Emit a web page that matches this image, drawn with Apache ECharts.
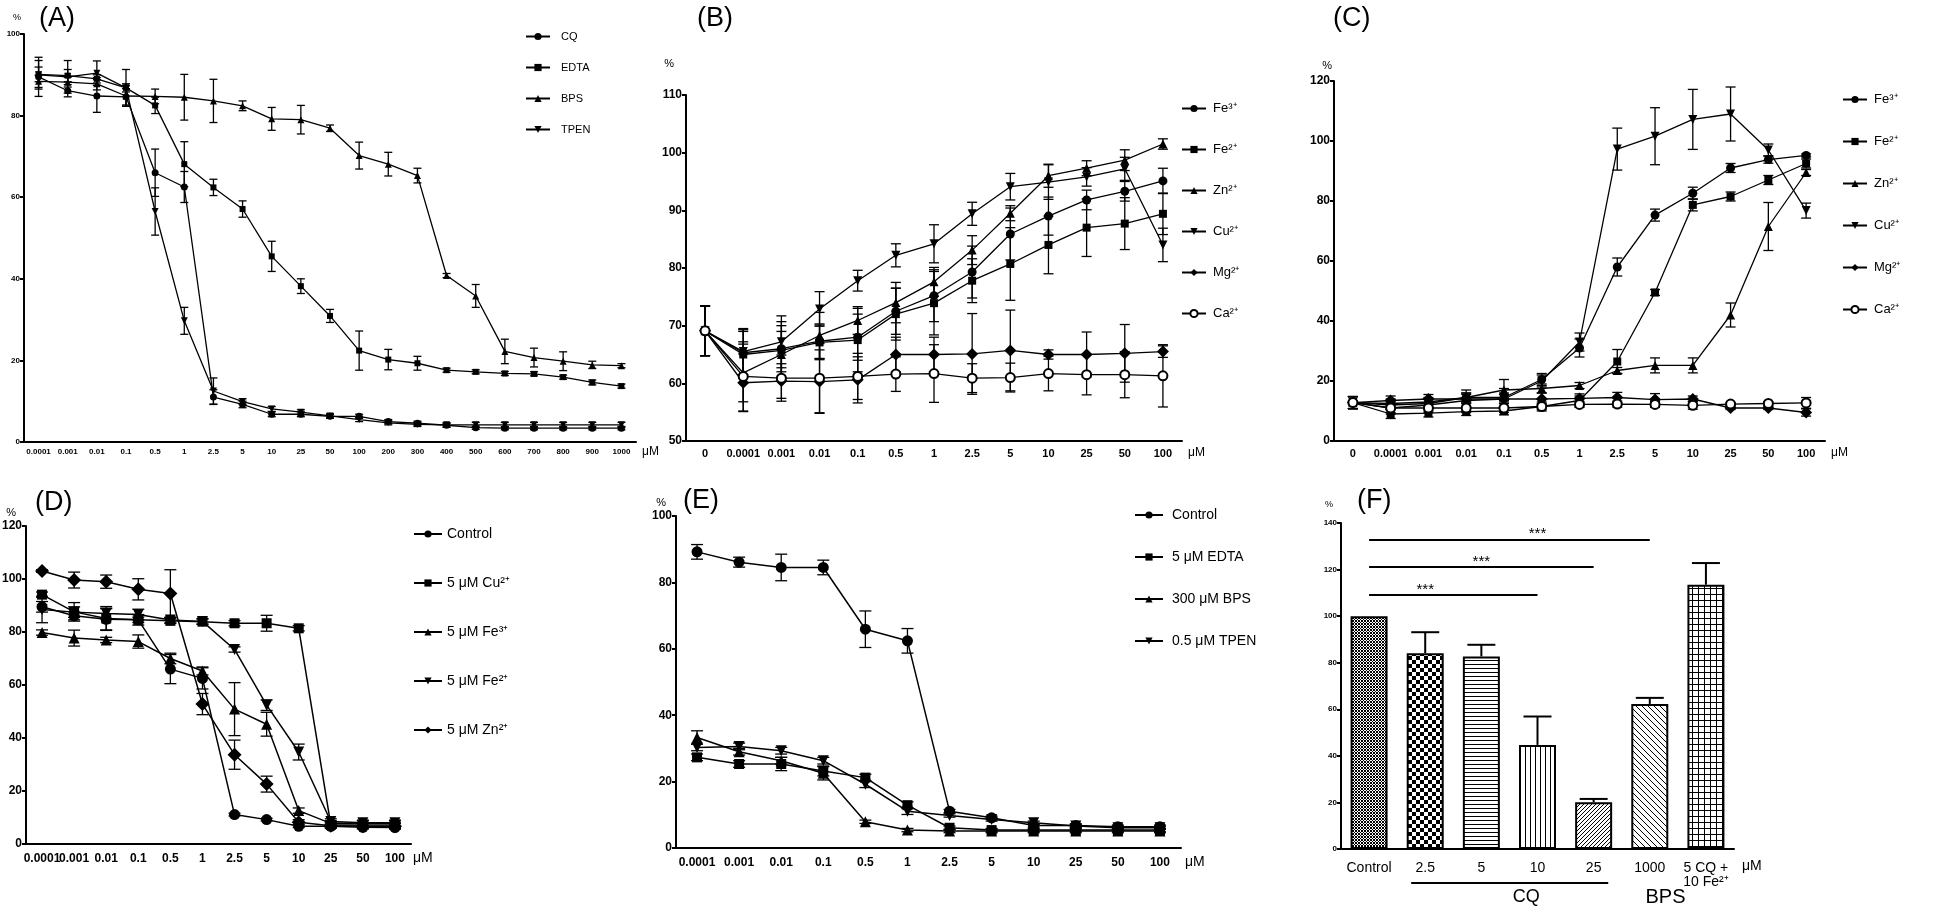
<!DOCTYPE html>
<html><head><meta charset="utf-8">
<script src="https://cdn.jsdelivr.net/npm/echarts@6/dist/echarts.min.js"></script>
<style>html,body{margin:0;padding:0;background:#fff}#c{width:1946px;height:909px}</style>
</head><body><div id="c"></div><script>
// ---------- DATA ----------
const catA = ['0.0001','0.001','0.01','0.1','0.5','1','2.5','5','10','25','50','100','200','300','400','500','600','700','800','900','1000'];
const A_CQ      = [89.5,86.1,84.8,84.6,66.0,62.5,11.0,9.2,6.8,6.8,6.3,6.3,5.0,4.6,4.1,3.5,3.4,3.4,3.4,3.4,3.4];
const A_CQ_err  = [4.8,1.5,4,2,5.8,3.8,1.8,0.8,0.6,0.6,0.5,0.5,0.5,0.5,0.5,0.4,0.4,0.4,0.4,0.4,0.4];
const A_EDTA    = [90.1,89.8,89.0,86.8,82.5,68.1,62.4,57.1,45.5,38.2,30.9,22.4,20.2,19.3,17.6,17.2,16.8,16.7,15.9,14.6,13.7];
const A_EDTA_err= [1.8,1.5,1,1,2,5.5,2,2,3.7,1.8,1.6,4.8,2.5,1.7,0.5,0.5,0.5,0.5,0.5,0.6,0.5];
const A_BPS     = [88.4,88.2,87.8,84.8,84.7,84.5,83.6,82.4,79.2,79.0,76.9,70.2,68.1,65.3,40.8,35.8,22.2,20.7,19.8,18.9,18.7];
const A_BPS_err = [1.5,1.2,1.5,2.5,1.8,5.6,5.3,1.2,2.8,3.5,0.8,3.3,2.9,1.8,0.5,2.8,3,2.3,2.3,0.9,0.5];
const A_TPEN    = [90.0,89.5,90.4,86.8,56.5,29.7,12.5,9.9,8.1,7.3,6.4,5.5,4.7,4.3,4.2,4.2,4.2,4.2,4.2,4.2,4.2];
const A_TPEN_err= [3.5,4,3,4.5,5.8,3.3,3.2,0.7,0.6,0.6,0.5,0.5,0.5,0.5,0.5,0.6,0.6,0.6,0.6,0.6,0.6];
const A_names = ['CQ','EDTA','BPS','TPEN'];

const catBC = ['0','0.0001','0.001','0.01','0.1','0.5','1','2.5','5','10','25','50','100'];
const ionNames = ['Fe³⁺','Fe²⁺','Zn²⁺','Cu²⁺','Mg²⁺','Ca²⁺'];
const B_Fe3 = [69.1,65.3,66.0,67.3,68.0,72.5,75.2,79.3,85.9,89.0,91.8,93.3,95.1];
const B_Fe3_err = [4.3,4,4,3,4,4,4.5,4.5,4.5,3.3,1.7,1.7,2.2];
const B_Fe2 = [69.1,65.0,65.7,67.1,67.5,72.0,73.9,77.8,80.7,84.0,87.0,87.7,89.4];
const B_Fe2_err = [4.3,4,5,3,5.5,4.5,5.5,3.8,6.3,5,5,4.5,3.6];
const B_Zn = [69.1,61.8,65.0,68.3,70.9,74.0,77.6,83.1,89.5,96.0,97.3,98.7,101.5];
const B_Zn_err = [4.3,5,4,4,2.4,3.5,2.5,2.5,1.3,2,1.3,1.8,0.9];
const B_Cu = [69.1,65.5,67.2,72.9,77.8,82.2,84.2,89.4,94.1,94.9,95.8,97.2,84.0];
const B_Cu_err = [4.3,4,4.5,3,1.8,2,3.3,2,2.3,3,1.6,2,2.9];
const B_Mg = [69.1,60.1,60.4,60.3,60.6,65.0,65.0,65.1,65.7,65.0,65.0,65.2,65.5];
const B_Mg_err = [4.3,5,3,5.5,4,3,3,7,7,0.8,3.9,5,1];
const B_Ca = [69.1,61.2,60.9,60.9,61.2,61.6,61.7,60.9,61.0,61.7,61.5,61.5,61.3];
const B_Ca_err = [4.3,6,4,6,4,3,5,2.5,2.5,3,3.5,4,5.4];

const C_Fe3 = [12.8,12.0,12.5,14.5,14.5,20.5,31.0,58.0,75.3,82.6,91.0,93.8,95.2];
const C_Fe3_err = [2,1.5,1.5,1.5,1.5,2,3,3,2,2,1.5,1.2,0.5];
const C_Fe2 = [12.8,9.0,9.3,9.8,10.0,11.5,13.5,26.5,49.5,78.7,81.5,87.0,92.5];
const C_Fe2_err = [2,1.5,1.3,1.3,1.3,1,1.5,4,1,2,1.5,1.5,1.5];
const C_Zn = [12.8,12.5,13.0,14.5,17.0,17.5,18.5,23.5,25.2,25.2,42.0,71.5,89.5];
const C_Zn_err = [2,1.5,1.5,1.5,3.5,1.5,1,1,2.5,2.5,4,8,1];
const C_Cu = [12.8,11.0,12.0,13.5,14.0,20.0,33.0,97.3,101.6,107.2,109.0,97.0,76.8];
const C_Cu_err = [2,2,2,3.5,3.5,2,3,7,9.5,10,9,2,2.5];
const C_Mg = [12.8,13.5,14.0,14.0,14.0,14.0,14.2,14.5,13.8,14.0,11.0,11.0,9.5];
const C_Mg_err = [2,1.5,1.5,1.5,1.5,2,1.5,1.7,2,1,0.5,0.5,1.2];
const C_Ca = [12.8,11.0,11.0,11.0,11.0,11.5,12.2,12.3,12.2,11.9,12.3,12.5,12.7];
const C_Ca_err = [2,1.5,1.5,1.5,1.5,1.5,1,1,1,1.3,0.5,0.5,1.8];

const catDE = ['0.0001','0.001','0.01','0.1','0.5','1','2.5','5','10','25','50','100'];
const D_names = ['Control','5 μM Cu²⁺','5 μM Fe³⁺','5 μM Fe²⁺','5 μM Zn²⁺'];
const D_Ctrl = [89.5,86.1,84.8,84.6,66.0,62.5,11.1,9.2,6.7,6.7,6.3,6.2];
const D_Ctrl_err = [2,1.5,4,2,5.5,4,0.5,0.5,0.5,0.5,0.5,0.5];
const D_Cu = [94.1,87.6,85.1,84.6,84.2,83.9,83.3,83.3,81.4,7.2,7.2,7.2];
const D_Cu_err = [1,3.5,4.5,1,1,1,1,3,1,1,1,1];
const D_Fe3 = [79.8,77.7,77.0,76.4,70.0,65.3,50.9,45.2,12.6,7.8,7.8,7.8];
const D_Fe3_err = [1,3,1,2.5,2,1.5,10,4.5,1,1,1,1];
const D_Fe2 = [88.5,87.5,87.0,86.6,84.5,84.0,73.4,52.4,34.7,8.5,8.0,8.0];
const D_Fe2_err = [5,2,2,2,1,1,1,2,3,1,1,1];
const D_Zn = [103.0,99.6,99.0,96.1,94.5,52.8,33.7,22.6,8.2,6.9,6.7,6.7];
const D_Zn_err = [0.5,3,2.5,4,9,4,5.5,3,1,1,1,1];

const E_names = ['Control','5 μM EDTA','300 μM BPS','0.5 μM TPEN'];
const E_Ctrl = [89.2,86.1,84.5,84.5,65.9,62.4,11.1,9.1,6.8,6.8,6.4,6.4];
const E_Ctrl_err = [2.2,1.5,4,2.2,5.5,3.7,0.5,0.5,0.5,0.5,0.5,0.5];
const E_EDTA = [27.3,25.3,25.3,23.2,21.2,12.9,6.1,5.4,5.4,5.4,5.4,5.4];
const E_EDTA_err = [1,1,2,1.5,1,1,0.5,0.5,0.5,0.5,0.5,0.5];
const E_BPS = [33.3,29.0,26.3,22.5,7.9,5.4,5.1,5.1,5.1,5.1,5.1,5.1];
const E_BPS_err = [2,1,1,2,0.5,0.5,0.5,0.5,0.5,0.5,0.5,0.5];
const E_TPEN = [30.3,30.6,29.3,26.3,19.2,11.1,9.8,8.6,7.6,6.6,6.1,6.1];
const E_TPEN_err = [1,1,1,1,1,1,0.5,0.5,0.5,0.5,0.5,0.5];

const catF = ['Control','2.5','5','10','25','1000','5 CQ +\n10 Fe²⁺'];
const F_vals = [100,84.1,82.7,44.7,20.1,62.3,113.5];
const F_err  = [0,9,5,12.2,1.4,2.6,9.3];
const sigFrom = 'Control';
const sigTo   = ['10','25','1000'];
const sigY    = [109.2,121.3,133.0];
const sigStarAt = ['2.5','5','10'];
const sigLabel = '***';

// ---------- STYLE HELPERS ----------
const FONT = "'Liberation Sans', Arial, sans-serif";
const NARROW = "'Liberation Sans Narrow', 'Liberation Sans', Arial, sans-serif";
const SYM = {
  circle:{symbol:'circle'}, square:{symbol:'rect'}, up:{symbol:'triangle'},
  down:{symbol:'triangle', symbolRotate:180}, diamond:{symbol:'diamond'}, open:{symbol:'emptyCircle'}
};
function lineS(name, idx, data, sym, size, lw){
  const sz = sym==='diamond' ? size+3 : (sym==='square' ? size-1 : size);
  return Object.assign({type:'line', name, xAxisIndex:idx, yAxisIndex:idx, data,
    symbolSize:sz, showSymbol:true, lineStyle:{color:'#000', width:lw},
    itemStyle:{color:'#000', borderColor:'#000', borderWidth: sym==='open'?1.3:0},
    emphasis:{disabled:true}, animation:false, z:3}, SYM[sym]);
}
function errS(idx, vals, errs, cap, upOnly, lw){
  return {type:'custom', xAxisIndex:idx, yAxisIndex:idx, silent:true, z:2, animation:false,
    data: vals.map((v,i)=>[i, v, errs[i]]), encode:{x:0, y:1},
    renderItem(params, api){
      const i = api.value(0), v = api.value(1), e = api.value(2);
      if (!e) return null;
      const t = api.coord([i, v+e]);
      const b = api.coord([i, upOnly ? v : v-e]);
      const st = {stroke:'#000', lineWidth:lw||1.3};
      const ch = [
        {type:'line', shape:{x1:t[0],y1:t[1],x2:b[0],y2:b[1]}, style:st},
        {type:'line', shape:{x1:t[0]-cap,y1:t[1],x2:t[0]+cap,y2:t[1]}, style:st}
      ];
      if (!upOnly) ch.push({type:'line', shape:{x1:b[0]-cap,y1:b[1],x2:b[0]+cap,y2:b[1]}, style:st});
      return {type:'group', children:ch};
    }};
}
function xCat(idx, data, fs, weight, margin, nameFs, namePadTop, nameGap){
  return {type:'category', gridIndex:idx, data, boundaryGap:true,
    axisLine:{lineStyle:{color:'#000', width:2}},
    axisTick:{alignWithLabel:true, length:5, lineStyle:{color:'#000', width:2}},
    axisLabel:{interval:0, color:'#000', fontSize:fs, fontWeight:weight, fontFamily:FONT, margin:margin, hideOverlap:false},
    name:'μM', nameLocation:'end', nameGap:nameGap,
    nameTextStyle:{color:'#000', fontSize:nameFs, fontFamily:FONT, verticalAlign:'top', align:'left', padding:[namePadTop,0,0,0]}};
}
function yVal(idx, min, max, interval, fs, nameFs, nameGap, nameRight){
  return {type:'value', gridIndex:idx, min, max, interval,
    axisLine:{show:true, lineStyle:{color:'#000', width:2}},
    axisTick:{show:true, length:4, lineStyle:{color:'#000', width:2}},
    splitLine:{show:false},
    axisLabel:{color:'#000', fontSize:fs, fontWeight:'bold', fontFamily:FONT, margin:4},
    name:'%', nameLocation:'end', nameGap:nameGap,
    nameTextStyle:{color:'#000', fontSize:nameFs, fontFamily:FONT, align:'right', padding:[0,nameRight,0,0]}};
}
function legend(names, left, top, gap, iw, fs, padL){
  return {orient:'vertical', left, top, itemGap:gap, itemWidth:iw, itemHeight:9, data:names,
    selectedMode:false, textStyle:{color:'#000', fontSize:fs, fontFamily:NARROW, padding:[0,0,0,padL]}};
}
function titleT(text, left, top){
  return {text, left, top, textStyle:{fontSize:27, fontWeight:'normal', fontFamily:FONT, color:'#000'}};
}
function pattern(w, h, draw){
  const c = document.createElement('canvas'); c.width = w; c.height = h;
  const g = c.getContext('2d'); g.fillStyle = '#fff'; g.fillRect(0,0,w,h);
  g.fillStyle = '#000'; g.strokeStyle = '#000'; draw(g);
  return {image:c, repeat:'repeat'};
}
const PATS = [
  pattern(3,3,g=>{g.fillRect(0,0,1,1);g.fillRect(1,1,1,1);g.fillRect(2,0,1,1);g.fillRect(0,2,1,1);g.fillRect(2,2,1,1);}),
  pattern(8,8,g=>{g.fillRect(0,0,4,4);g.fillRect(4,4,4,4);}),
  pattern(1,4,g=>{g.fillRect(0,0,1,1);}),
  pattern(5,1,g=>{g.fillRect(0,0,1,1);}),
  pattern(4,4,g=>{g.lineWidth=1;g.beginPath();g.moveTo(-1,5);g.lineTo(5,-1);g.moveTo(-1,1);g.lineTo(1,-1);g.moveTo(3,5);g.lineTo(5,3);g.stroke();}),
  pattern(6,6,g=>{g.lineWidth=1;g.beginPath();g.moveTo(-1,-1);g.lineTo(7,7);g.moveTo(5,-1);g.lineTo(7,1);g.moveTo(-1,5);g.lineTo(1,7);g.stroke();}),
  pattern(6,6,g=>{g.fillRect(0,0,6,1);g.fillRect(0,0,1,6);})
];

// ---------- BUILD ----------
const series = [];
function addPanel(idx, names, vals, errs, syms, size, lw, cap){
  names.forEach((n,k)=>{
    series.push(errS(idx, vals[k], errs[k], cap, false));
    series.push(lineS(n, idx, vals[k], syms[k], size, lw));
  });
}
addPanel(0, A_names, [A_CQ,A_EDTA,A_BPS,A_TPEN], [A_CQ_err,A_EDTA_err,A_BPS_err,A_TPEN_err],
  ['circle','square','up','down'], 7, 1.3, 4);
addPanel(1, ionNames, [B_Fe3,B_Fe2,B_Zn,B_Cu,B_Mg,B_Ca], [B_Fe3_err,B_Fe2_err,B_Zn_err,B_Cu_err,B_Mg_err,B_Ca_err],
  ['circle','square','up','down','diamond','open'], 9, 1.3, 5);
addPanel(2, ionNames, [C_Fe3,C_Fe2,C_Zn,C_Cu,C_Mg,C_Ca], [C_Fe3_err,C_Fe2_err,C_Zn_err,C_Cu_err,C_Mg_err,C_Ca_err],
  ['circle','square','up','down','diamond','open'], 9, 1.3, 5);
addPanel(3, D_names, [D_Ctrl,D_Cu,D_Fe3,D_Fe2,D_Zn], [D_Ctrl_err,D_Cu_err,D_Fe3_err,D_Fe2_err,D_Zn_err],
  ['circle','square','up','down','diamond'], 11, 1.5, 6);
addPanel(4, E_names, [E_Ctrl,E_EDTA,E_BPS,E_TPEN], [E_Ctrl_err,E_EDTA_err,E_BPS_err,E_TPEN_err],
  ['circle','square','up','down'], 11, 1.5, 6);

series.push({type:'bar', name:'F', xAxisIndex:5, yAxisIndex:5, barWidth:37, animation:false, z:2,
  data: F_vals.map((v,i)=>({value:v, itemStyle:{color:PATS[i], borderColor:'#000', borderWidth:2}})),
  emphasis:{disabled:true},
  markLine:{silent:true, symbol:'none', animation:false, label:{show:false},
    lineStyle:{color:'#000', width:2, type:'solid'},
    data: sigTo.map((t,k)=>[{coord:[sigFrom, sigY[k]]},{coord:[t, sigY[k]]}])},
  markPoint:{silent:true, animation:false, symbol:'circle', symbolSize:1, itemStyle:{color:'rgba(0,0,0,0)'},
    label:{show:true, formatter:sigLabel, color:'#000', fontSize:15, fontFamily:FONT, position:'top', distance:-3},
    data: sigStarAt.map((c,k)=>({coord:[c, sigY[k]]}))}
});
series.push(errS(5, F_vals, F_err, 14, true, 2));

const option = {
  backgroundColor:'#fff', animation:false,
  title:[titleT('(A)',34,0), titleT('(B)',692,0), titleT('(C)',1328,0), titleT('(D)',30,484), titleT('(E)',678,482), titleT('(F)',1352,482)],
  grid:[
    {left:24, top:34, width:612, height:408},
    {left:686, top:95, width:496, height:346},
    {left:1334, top:81, width:491, height:360},
    {left:26, top:526, width:385, height:318},
    {left:676, top:516, width:505, height:332},
    {left:1341, top:523, width:393, height:326}
  ].map(g=>Object.assign({containLabel:false, outerBoundsMode:'none'}, g)),
  xAxis:[
    xCat(0, catA, 8, 'bold', 6, 12, 4, 6),
    xCat(1, catBC, 11, 'bold', 7, 12, 6, 6),
    xCat(2, catBC, 11, 'bold', 7, 12, 6, 6),
    xCat(3, catDE, 12, 'bold', 9, 14, 7, 2),
    xCat(4, catDE, 12, 'bold', 9, 14, 7, 4),
    xCat(5, catF, 14, 'normal', 12, 14, 10, 8)
  ],
  yAxis:[
    yVal(0, 0, 100, 20, 8, 9, 12, 3),
    yVal(1, 50, 110, 10, 12, 11, 26, 12),
    yVal(2, 0, 120, 20, 12, 11, 10, 2),
    yVal(3, 0, 120, 20, 12, 11, 8, 10),
    yVal(4, 0, 100, 20, 12, 11, 8, 10),
    yVal(5, 0, 140, 20, 8, 9, 14, 8)
  ],
  legend:[
    legend(A_names, 520, 26, 20, 24, 11, 6),
    legend(ionNames, 1176, 97, 28, 24, 13, 2),
    legend(ionNames, 1837, 88, 29, 24, 13, 2),
    legend(D_names, 408, 522, 35, 28, 14, 0),
    legend(E_names, 1129, 503, 28, 28, 14, 4)
  ],
  series
};
const chart = echarts.init(document.getElementById('c'), null, {renderer:'canvas'});
chart.setOption(option);

// CQ / BPS group labels under panel F, positioned from the axis scale
const px = c => chart.convertToPixel({xAxisIndex:5}, c);
const step = px('5') - px('2.5');
const yBase = chart.convertToPixel({yAxisIndex:5}, 0);
chart.setOption({graphic:[
  {type:'line', shape:{x1:px('2.5')-0.25*step, y1:yBase+34, x2:px('25')+0.26*step, y2:yBase+34}, style:{stroke:'#000', lineWidth:2}},
  {type:'text', x:px('5')+0.8*step, y:yBase+48, style:{text:'CQ', fill:'#000', font:'18px '+FONT, textAlign:'center', textVerticalAlign:'middle'}},
  {type:'text', x:px('1000')+0.28*step, y:yBase+48, style:{text:'BPS', fill:'#000', font:'20px '+FONT, textAlign:'center', textVerticalAlign:'middle'}}
]});
</script></body></html>
